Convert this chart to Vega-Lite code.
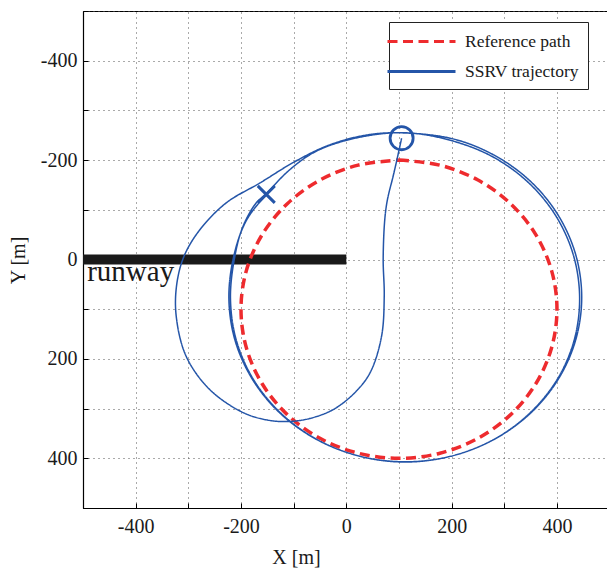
{
  "$schema": "https://vega.github.io/schema/vega-lite/v6.json",
  "width": 524,
  "height": 497,
  "autosize": {"type": "none"},
  "padding": {"left": 83, "top": 11, "right": 0, "bottom": 62},
  "background": "white",
  "config": {
    "view": {"stroke": "#000", "strokeWidth": 1},
    "font": "Times New Roman",
    "style": {
      "guide-label": {"font": "Times New Roman", "fontSize": 20, "fill": "#1a1a1a"},
      "guide-title": {"font": "Times New Roman", "fontSize": 20, "fontWeight": "normal", "fill": "#1a1a1a"}
    },
    "axis": {
      "labelFont": "Times New Roman",
      "titleFont": "Times New Roman",
      "labelFontSize": 20,
      "titleFontSize": 20,
      "titleFontWeight": "normal",
      "labelColor": "#1a1a1a",
      "titleColor": "#1a1a1a",
      "domainColor": "#000",
      "domainWidth": 1.2,
      "ticks": true,
      "tickSize": -5,
      "tickColor": "#000",
      "tickWidth": 1,
      "gridColor": "#555",
      "gridDash": [1, 4],
      "gridWidth": 1,
      "gridOpacity": 1
    },
    "legend": {
      "labelFont": "Times New Roman",
      "labelFontSize": 17.5,
      "symbolStrokeWidth": 3.2
    }
  },
  "datasets": {
    "ref": [
      {"series": "Reference path", "i": 1, "x": 100, "y": -200},
      {"series": "Reference path", "i": 2, "x": 177.6, "y": -189.8},
      {"series": "Reference path", "i": 3, "x": 250, "y": -159.8},
      {"series": "Reference path", "i": 4, "x": 312.1, "y": -112.1},
      {"series": "Reference path", "i": 5, "x": 359.8, "y": -50},
      {"series": "Reference path", "i": 6, "x": 389.8, "y": 22.4},
      {"series": "Reference path", "i": 7, "x": 400, "y": 100},
      {"series": "Reference path", "i": 8, "x": 389.8, "y": 177.6},
      {"series": "Reference path", "i": 9, "x": 359.8, "y": 250},
      {"series": "Reference path", "i": 10, "x": 312.1, "y": 312.1},
      {"series": "Reference path", "i": 11, "x": 250, "y": 359.8},
      {"series": "Reference path", "i": 12, "x": 177.6, "y": 389.8},
      {"series": "Reference path", "i": 13, "x": 100, "y": 400},
      {"series": "Reference path", "i": 14, "x": 22.4, "y": 389.8},
      {"series": "Reference path", "i": 15, "x": -50, "y": 359.8},
      {"series": "Reference path", "i": 16, "x": -112.1, "y": 312.1},
      {"series": "Reference path", "i": 17, "x": -159.8, "y": 250},
      {"series": "Reference path", "i": 18, "x": -189.8, "y": 177.6},
      {"series": "Reference path", "i": 19, "x": -200, "y": 100},
      {"series": "Reference path", "i": 20, "x": -189.8, "y": 22.4},
      {"series": "Reference path", "i": 21, "x": -159.8, "y": -50},
      {"series": "Reference path", "i": 22, "x": -112.1, "y": -112.1},
      {"series": "Reference path", "i": 23, "x": -50, "y": -159.8},
      {"series": "Reference path", "i": 24, "x": 22.4, "y": -189.8},
      {"series": "Reference path", "i": 25, "x": 100, "y": -200}
    ],
    "traj": [
      {"series": "SSRV trajectory", "i": 1, "x": 105, "y": -244},
      {"series": "SSRV trajectory", "i": 2, "x": 97, "y": -205},
      {"series": "SSRV trajectory", "i": 3, "x": 89, "y": -168},
      {"series": "SSRV trajectory", "i": 4, "x": 78, "y": -120},
      {"series": "SSRV trajectory", "i": 5, "x": 73, "y": -80},
      {"series": "SSRV trajectory", "i": 6, "x": 70, "y": 0},
      {"series": "SSRV trajectory", "i": 7, "x": 72, "y": 74},
      {"series": "SSRV trajectory", "i": 8, "x": 67, "y": 154},
      {"series": "SSRV trajectory", "i": 9, "x": 46, "y": 226},
      {"series": "SSRV trajectory", "i": 10, "x": 18, "y": 266},
      {"series": "SSRV trajectory", "i": 11, "x": -25, "y": 302},
      {"series": "SSRV trajectory", "i": 12, "x": -70, "y": 320},
      {"series": "SSRV trajectory", "i": 13, "x": -110, "y": 326},
      {"series": "SSRV trajectory", "i": 14, "x": -150, "y": 323},
      {"series": "SSRV trajectory", "i": 15, "x": -196, "y": 308},
      {"series": "SSRV trajectory", "i": 16, "x": -259, "y": 262},
      {"series": "SSRV trajectory", "i": 17, "x": -304, "y": 195},
      {"series": "SSRV trajectory", "i": 18, "x": -323, "y": 114},
      {"series": "SSRV trajectory", "i": 19, "x": -322, "y": 50},
      {"series": "SSRV trajectory", "i": 20, "x": -308, "y": -7},
      {"series": "SSRV trajectory", "i": 21, "x": -278, "y": -60},
      {"series": "SSRV trajectory", "i": 22, "x": -228, "y": -114},
      {"series": "SSRV trajectory", "i": 23, "x": -164, "y": -154},
      {"series": "SSRV trajectory", "i": 24, "x": -101, "y": -195},
      {"series": "SSRV trajectory", "i": 25, "x": -38, "y": -228},
      {"series": "SSRV trajectory", "i": 26, "x": 26, "y": -248},
      {"series": "SSRV trajectory", "i": 27, "x": 89, "y": -255},
      {"series": "SSRV trajectory", "i": 28, "x": 198.7, "y": -243.7},
      {"series": "SSRV trajectory", "i": 29, "x": 279.5, "y": -210.6},
      {"series": "SSRV trajectory", "i": 30, "x": 348.9, "y": -158.1},
      {"series": "SSRV trajectory", "i": 31, "x": 402.1, "y": -89.5},
      {"series": "SSRV trajectory", "i": 32, "x": 435.6, "y": -9.7},
      {"series": "SSRV trajectory", "i": 33, "x": 447, "y": 76},
      {"series": "SSRV trajectory", "i": 34, "x": 435.6, "y": 161.7},
      {"series": "SSRV trajectory", "i": 35, "x": 402.1, "y": 241.5},
      {"series": "SSRV trajectory", "i": 36, "x": 348.9, "y": 310.1},
      {"series": "SSRV trajectory", "i": 37, "x": 279.5, "y": 362.6},
      {"series": "SSRV trajectory", "i": 38, "x": 198.7, "y": 395.7},
      {"series": "SSRV trajectory", "i": 39, "x": 112, "y": 407},
      {"series": "SSRV trajectory", "i": 40, "x": 25.3, "y": 395.7},
      {"series": "SSRV trajectory", "i": 41, "x": -55.5, "y": 362.6},
      {"series": "SSRV trajectory", "i": 42, "x": -124.9, "y": 310.1},
      {"series": "SSRV trajectory", "i": 43, "x": -178.1, "y": 241.5},
      {"series": "SSRV trajectory", "i": 44, "x": -211.6, "y": 161.7},
      {"series": "SSRV trajectory", "i": 45, "x": -223, "y": 76},
      {"series": "SSRV trajectory", "i": 46, "x": -213, "y": -10},
      {"series": "SSRV trajectory", "i": 47, "x": -190, "y": -78},
      {"series": "SSRV trajectory", "i": 48, "x": -152, "y": -131},
      {"series": "SSRV trajectory", "i": 49, "x": -107, "y": -181},
      {"series": "SSRV trajectory", "i": 50, "x": -55, "y": -219},
      {"series": "SSRV trajectory", "i": 51, "x": 25.3, "y": -246},
      {"series": "SSRV trajectory", "i": 52, "x": 112, "y": -255},
      {"series": "SSRV trajectory", "i": 53, "x": 197.7, "y": -239.8},
      {"series": "SSRV trajectory", "i": 54, "x": 277.5, "y": -206.9},
      {"series": "SSRV trajectory", "i": 55, "x": 346, "y": -154.6},
      {"series": "SSRV trajectory", "i": 56, "x": 398.6, "y": -86.5},
      {"series": "SSRV trajectory", "i": 57, "x": 431.7, "y": -6.9},
      {"series": "SSRV trajectory", "i": 58, "x": 443, "y": 78},
      {"series": "SSRV trajectory", "i": 59, "x": 432.5, "y": 163},
      {"series": "SSRV trajectory", "i": 60, "x": 400, "y": 242},
      {"series": "SSRV trajectory", "i": 61, "x": 347, "y": 310.5},
      {"series": "SSRV trajectory", "i": 62, "x": 278.5, "y": 363},
      {"series": "SSRV trajectory", "i": 63, "x": 198, "y": 396},
      {"series": "SSRV trajectory", "i": 64, "x": 112, "y": 407.5},
      {"series": "SSRV trajectory", "i": 65, "x": 26, "y": 396},
      {"series": "SSRV trajectory", "i": 66, "x": -54, "y": 363},
      {"series": "SSRV trajectory", "i": 67, "x": -123, "y": 310.5},
      {"series": "SSRV trajectory", "i": 68, "x": -176, "y": 242},
      {"series": "SSRV trajectory", "i": 69, "x": -209, "y": 162},
      {"series": "SSRV trajectory", "i": 70, "x": -220, "y": 77},
      {"series": "SSRV trajectory", "i": 71, "x": -211, "y": -10},
      {"series": "SSRV trajectory", "i": 72, "x": -196, "y": -67},
      {"series": "SSRV trajectory", "i": 73, "x": -171, "y": -114},
      {"series": "SSRV trajectory", "i": 74, "x": -152, "y": -131}
    ],
    "runway": [{"x": -500, "x2": 0, "y": 0, "label": "runway", "lx": -492, "ly": 44}],
    "start": [{"x": 105, "y": -244}],
    "end": [{"x": -152, "y": -131}]
  },
  "layer": [
    {
      "data": {"name": "runway"},
      "mark": {"type": "rule", "color": "#1a1a1a", "strokeWidth": 10, "strokeCap": "butt"},
      "encoding": {
        "x": {"field": "x", "type": "quantitative",
              "scale": {"domain": [-500, 495], "nice": false, "zero": false},
              "axis": {"values": [-500, -400, -300, -200, -100, 0, 100, 200, 300, 400],
                       "labelExpr": "datum.value % 200 == 0 ? toString(datum.value) : ''",
                       "labelFont": "Times New Roman", "labelFontSize": 20, "labelColor": "#1a1a1a",
                       "titleFont": "Times New Roman", "titleFontSize": 20, "titleFontWeight": "normal", "titleColor": "#1a1a1a",
                       "title": "X [m]", "labelPadding": 13,
                       "titleX": 213, "titleY": 55, "titleBaseline": "alphabetic", "titleAnchor": null,
                       "labelFlush": false, "labelOverlap": false}},
        "x2": {"field": "x2"},
        "y": {"field": "y", "type": "quantitative",
              "scale": {"domain": [-500, 500], "reverse": true, "nice": false, "zero": false},
              "axis": {"values": [-500, -400, -300, -200, -100, 0, 100, 200, 300, 400, 500],
                       "labelExpr": "datum.value % 200 == 0 ? toString(datum.value) : ''",
                       "labelFont": "Times New Roman", "labelFontSize": 20, "labelColor": "#1a1a1a",
                       "titleFont": "Times New Roman", "titleFontSize": 20, "titleFontWeight": "normal", "titleColor": "#1a1a1a",
                       "title": "Y [m]", "labelPadding": 11,
                       "titleX": -65, "titleY": 249, "titleAngle": -90, "titleBaseline": "middle", "titleAlign": "center", "titleAnchor": null,
                       "labelFlush": false, "labelOverlap": false}}
      }
    },
    {
      "data": {"name": "runway"},
      "mark": {"type": "text", "font": "Times New Roman", "fontSize": 29, "align": "left", "baseline": "alphabetic", "color": "#1a1a1a"},
      "encoding": {
        "x": {"field": "lx", "type": "quantitative"},
        "y": {"field": "ly", "type": "quantitative"},
        "text": {"field": "label"}
      }
    },
    {
      "data": {"name": "ref"},
      "mark": {"type": "line", "interpolate": "catmull-rom", "strokeCap": "butt", "strokeJoin": "round", "strokeWidth": 3.5},
      "encoding": {
        "x": {"field": "x", "type": "quantitative"},
        "y": {"field": "y", "type": "quantitative"},
        "order": {"field": "i", "type": "quantitative"},
        "color": {"field": "series", "type": "nominal",
                  "scale": {"domain": ["Reference path", "SSRV trajectory"], "range": ["#ee2b2e", "#2455a8"]},
                  "legend": {"title": null, "orient": "none", "legendX": 306, "legendY": 11,
                             "fillColor": "white", "strokeColor": "#222", "padding": 9,
                             "symbolType": "M-4,0H4", "symbolSize": 289, "symbolStrokeWidth": 3.2, "symbolOffset": 13,
                             "labelFont": "Times New Roman", "labelFontSize": 17.5, "labelColor": "#1a1a1a",
                             "labelExpr": "datum.label + '\u00a0\u00a0\u00a0'",
                             "labelOffset": 33, "rowPadding": 11}},
        "strokeDash": {"field": "series", "type": "nominal",
                       "scale": {"domain": ["Reference path", "SSRV trajectory"], "range": [[10, 5.5], [1, 0]]},
                       "legend": {"title": null, "orient": "none", "legendX": 306, "legendY": 11,
                             "fillColor": "white", "strokeColor": "#222", "padding": 9,
                             "symbolType": "M-4,0H4", "symbolSize": 289, "symbolStrokeWidth": 3.2, "symbolOffset": 13,
                             "labelFont": "Times New Roman", "labelFontSize": 17.5, "labelColor": "#1a1a1a",
                             "labelExpr": "datum.label + '\u00a0\u00a0\u00a0'",
                             "labelOffset": 33, "rowPadding": 11}}
      }
    },
    {
      "data": {"name": "traj"},
      "mark": {"type": "line", "interpolate": "catmull-rom", "strokeCap": "butt", "strokeJoin": "round", "strokeWidth": 1.5},
      "encoding": {
        "x": {"field": "x", "type": "quantitative"},
        "y": {"field": "y", "type": "quantitative"},
        "order": {"field": "i", "type": "quantitative"},
        "color": {"field": "series", "type": "nominal"},
        "strokeDash": {"field": "series", "type": "nominal"}
      }
    },
    {
      "data": {"name": "start"},
      "mark": {"type": "point", "shape": "circle", "filled": false, "size": 530, "strokeWidth": 2.8, "color": "#2455a8", "opacity": 1},
      "encoding": {
        "x": {"field": "x", "type": "quantitative"},
        "y": {"field": "y", "type": "quantitative"}
      }
    },
    {
      "data": {"name": "end"},
      "mark": {"type": "point", "shape": "M-1,-1L1,1M-1,1L1,-1", "filled": false, "size": 290, "strokeWidth": 3, "color": "#2455a8", "opacity": 1},
      "encoding": {
        "x": {"field": "x", "type": "quantitative"},
        "y": {"field": "y", "type": "quantitative"}
      }
    }
  ]
}
